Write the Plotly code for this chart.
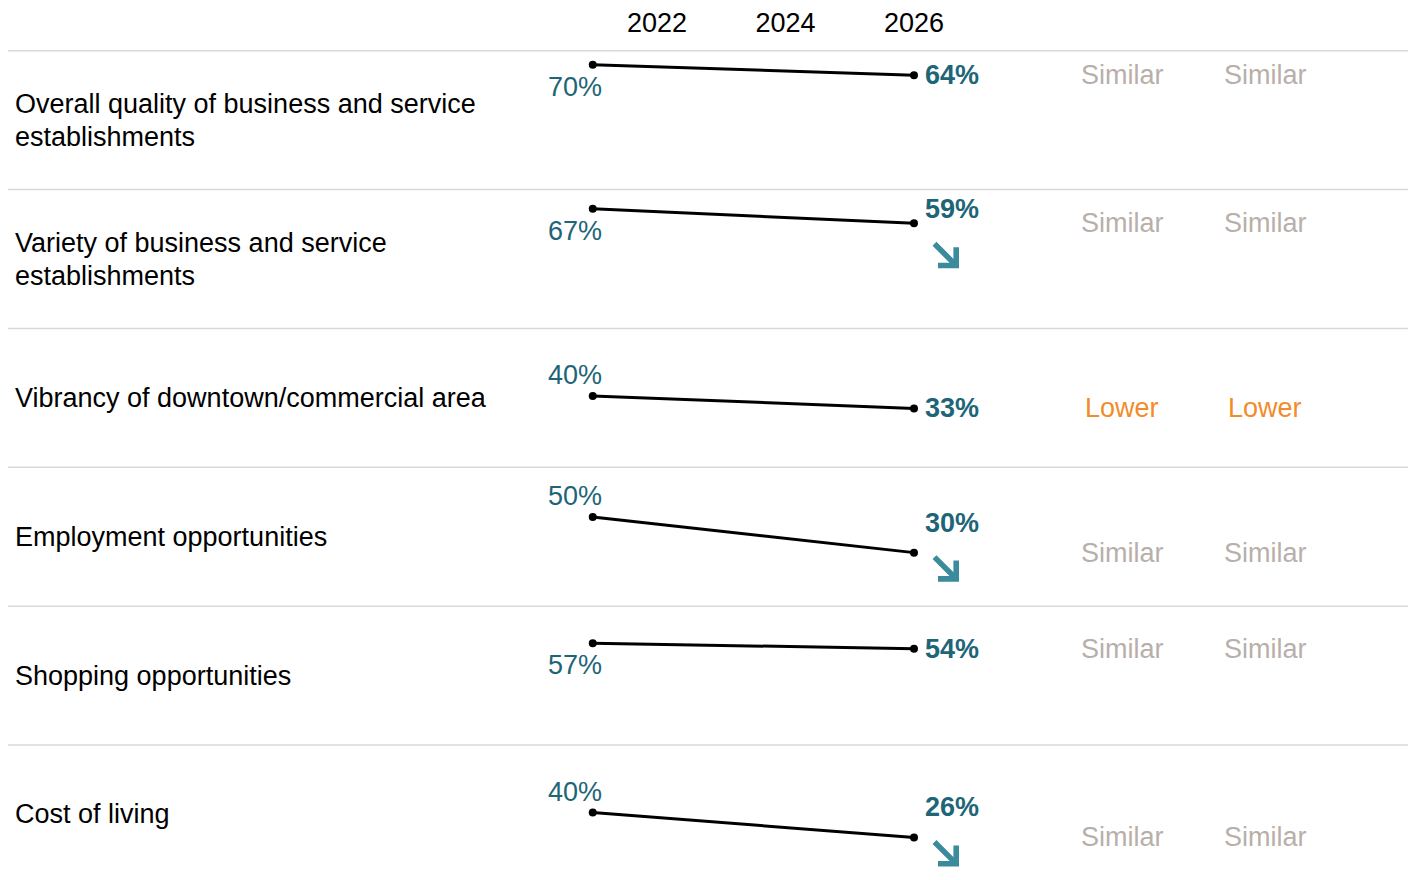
import plotly.graph_objects as go

categories = [
    "Overall quality of business and service<br>establishments",
    "Variety of business and service<br>establishments",
    "Vibrancy of downtown/commercial area",
    "Employment opportunities",
    "Shopping opportunities",
    "Cost of living",
]
years = [2021, 2026]
pct_start = [70, 67, 40, 50, 57, 40]
pct_end = [64, 59, 33, 30, 54, 26]
sig_decrease = [False, True, False, True, False, True]
compare_a = ["Similar", "Similar", "Lower", "Similar", "Similar", "Similar"]
compare_b = ["Similar", "Similar", "Lower", "Similar", "Similar", "Similar"]
tick_years = [2022, 2024, 2026]

OFF = 8  # body margin of the html page
W, H = 1416 - 2 * OFF, 880 - 2 * OFF
FONT = "Liberation Sans, Arial, sans-serif"
FS = 27
TEAL = "#1d6577"
ARROW = "#3b8b9d"
GRAY = "#b8afaa"
ORANGE = "#f28b2a"
GRID = "#d9d9d9"

top0 = 44.0 - OFF
row_h = 140.0
ymax = 77.8
px_per_unit = row_h / ymax
LINE_GAP = 33

# x mapping: 2022 at page px 657, 64.25 px / year
x_2022 = 657 - OFF
x0 = 2022 - x_2022 / 64.25
x1 = 2022 + (W - x_2022) / 64.25

fig = go.Figure()
layout = dict(
    width=W, height=H,
    margin=dict(l=0, r=0, t=0, b=0),
    paper_bgcolor="white", plot_bgcolor="white",
    showlegend=False,
    font=dict(family=FONT, size=FS, color="black"),
    xaxis=dict(range=[x0, x1], domain=[0, 1], side="top", anchor="y",
               tickvals=tick_years, ticktext=[str(t) for t in tick_years],
               ticks="outside", ticklen=7, tickcolor="rgba(0,0,0,0)",
               showgrid=False, zeroline=False, showline=False,
               tickfont=dict(family=FONT, size=27, color="black"), fixedrange=True),
)
annotations = []
shapes = []

for k in range(len(categories)):
    yname = "y" if k == 0 else f"y{k+1}"
    axname = "yaxis" if k == 0 else f"yaxis{k+1}"
    top_px = top0 + row_h * k
    bot_px = min(top_px + row_h, H)
    ylo = ymax * (1 - (bot_px - top_px) / row_h)
    layout[axname] = dict(domain=[1 - bot_px / H, 1 - top_px / H], range=[ylo, ymax],
                          visible=False, fixedrange=True)

    s, e = pct_start[k], pct_end[k]
    fig.add_trace(go.Scatter(
        x=years, y=[s, e], xaxis="x", yaxis=yname, mode="lines+markers",
        line=dict(color="black", width=3), marker=dict(size=8, color="black"),
        cliponaxis=False, hoverinfo="skip"))

    # top grid line of row
    shapes.append(dict(type="line", xref="paper", yref="paper",
                       x0=0, x1=1, y0=1 - top_px / H, y1=1 - top_px / H,
                       line=dict(color=GRID, width=1.5)))

    # row label (each line placed separately for tighter line spacing)
    lines = categories[k].split("<br>")
    n = len(lines)
    row_center = 1 - (top_px + row_h / 2) / H
    for i, ln in enumerate(lines):
        annotations.append(dict(xref="paper", yref="paper", x=(13 - OFF) / W, y=row_center,
                                xanchor="left", yanchor="middle", align="left",
                                yshift=((n - 1) / 2 - i) * LINE_GAP,
                                text=ln, showarrow=False,
                                font=dict(family=FONT, size=FS, color="black")))

    # start label
    below = s >= 55
    annotations.append(dict(xref="x", yref=yname, x=years[0], y=s,
                            xanchor="center", yanchor="middle", xshift=-18,
                            yshift=-22 if below else 21,
                            text=f"{s}%", showarrow=False,
                            font=dict(family=FONT, size=FS, color=TEAL)))

    # end label (shifted up if there's an arrow, clamped below row top)
    if sig_decrease[k]:
        end_px_from_top = (ymax - e) * px_per_unit
        label_px = max(end_px_from_top - 30, 20)
        ysh = end_px_from_top - label_px
    else:
        ysh = 0
    annotations.append(dict(xref="x", yref=yname, x=years[1], y=e,
                            xanchor="left", yanchor="middle", xshift=9, yshift=ysh,
                            text=f"<b>{e}%</b>", showarrow=False,
                            font=dict(family=FONT, size=FS, color=TEAL)))
    if sig_decrease[k]:
        annotations.append(dict(xref="x", yref=yname, x=years[1], y=e,
                                xshift=45, yshift=ysh - 59,
                                text="", showarrow=True, arrowhead=4,
                                arrowsize=0.9, arrowwidth=5.5, arrowcolor=ARROW,
                                ax=-26, ay=-26, axref="pixel", ayref="pixel"))

    for xpx, val in ((1122, compare_a[k]), (1265, compare_b[k])):
        col = ORANGE if val == "Lower" else GRAY
        annotations.append(dict(xref="paper", yref=yname, x=(xpx - OFF) / W, y=e,
                                xanchor="center", yanchor="middle",
                                text=val, showarrow=False,
                                font=dict(family=FONT, size=FS, color=col)))

layout["annotations"] = annotations
layout["shapes"] = shapes
fig.update_layout(**layout)
fig.write_html("out.html", config={"displayModeBar": False})
